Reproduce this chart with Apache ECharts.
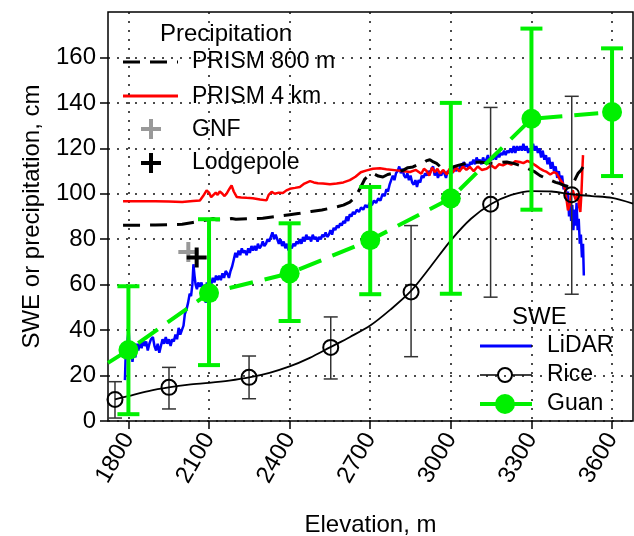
<!DOCTYPE html>
<html>
<head>
<meta charset="utf-8">
<script src="https://cdn.jsdelivr.net/npm/echarts@6/dist/echarts.min.js"></script>
<style>
  html, body { margin: 0; padding: 0; background: #fff; }
  #chart { width: 634px; height: 536px; }
</style>
</head>
<body>
<div id="chart"></div>
<script>
// axis ticks
const xTicks = [1800, 2100, 2400, 2700, 3000, 3300, 3600];
const yTicks = [0, 20, 40, 60, 80, 100, 120, 140, 160];

// PRISM precipitation, [elevation m, cm]
const prism800 = [
  [1780, 86.2], [1850, 86.2], [1900, 86.3], [1950, 86.4], [2000, 86.6], [2040, 87.4], [2070, 88],
  [2090, 88.4], [2103, 88.6], [2115, 89.2], [2125, 88.6], [2150, 88.6], [2184, 89.1], [2200, 88.8],
  [2250, 89], [2300, 89.2], [2350, 90], [2400, 90.8], [2438, 91.4], [2480, 92.2], [2520, 92.9],
  [2550, 93.6], [2580, 94.4], [2600, 95], [2624, 96.3], [2645, 98.5], [2665, 103], [2680, 106.5],
  [2699, 108.5], [2710, 109], [2730, 107.8], [2747, 107.4], [2765, 108.5], [2784, 109], [2800, 109.6],
  [2822, 110.3], [2840, 111.5], [2859, 111.8], [2880, 113], [2896, 113.4], [2910, 114.6], [2922, 115],
  [2935, 114], [2947, 113.4], [2960, 112], [2971, 111.2], [2990, 111.5], [3008, 111.8], [3030, 112.6],
  [3059, 113.4], [3080, 113.8], [3108, 114], [3130, 113.6], [3157, 113.4], [3180, 113.7], [3208, 114],
  [3230, 113.5], [3257, 112.5], [3285, 111.2], [3313, 109.6], [3332, 108], [3350, 107], [3370, 106],
  [3390, 105], [3406, 104.5], [3425, 103.5], [3443, 103], [3455, 104.5], [3465, 107], [3473, 108.9],
  [3485, 110.5], [3492, 111.8]
];
const prism4km = [
  [1780, 96.7], [1850, 96.7], [1900, 96.7], [1950, 96.6], [2000, 96.4], [2040, 96.8], [2066, 97],
  [2078, 99], [2091, 101.5], [2100, 100.5], [2108, 98.5], [2115, 99], [2125, 100.5], [2132, 99.5],
  [2140, 101], [2150, 100], [2158, 99], [2165, 100], [2175, 102], [2184, 103.7], [2192, 101],
  [2203, 98.6], [2220, 98.4], [2240, 98.2], [2263, 98], [2290, 97.5], [2314, 97.1], [2322, 99.5],
  [2333, 100.8], [2345, 100], [2360, 100.5], [2375, 100.3], [2388, 101.5], [2401, 102.2], [2420, 102.6],
  [2438, 103], [2455, 104.5], [2476, 105.6], [2490, 105], [2505, 104.6], [2524, 104.5], [2550, 104.2],
  [2575, 104.5], [2600, 105], [2624, 106], [2645, 107.5], [2665, 109.5], [2687, 110.3], [2710, 111],
  [2736, 111.2], [2760, 110.8], [2798, 110.3], [2820, 110], [2848, 109.6], [2870, 110.5], [2890, 108.8],
  [2900, 111], [2910, 110], [2920, 108], [2930, 111.5], [2940, 109.5], [2950, 111], [2960, 108.8],
  [2971, 110.5], [2985, 108.5], [2995, 111], [3008, 109.5], [3020, 111.5], [3032, 109.8], [3045, 112],
  [3058, 110.5], [3071, 111.8], [3085, 110], [3100, 112], [3115, 110.5], [3133, 111], [3150, 112.5],
  [3165, 111.2], [3180, 113], [3194, 112.5], [3210, 113.5], [3225, 112.8], [3240, 114.3], [3257, 114],
  [3270, 113.5], [3285, 114.5], [3300, 113.6], [3315, 112.5], [3330, 111.2], [3345, 110.2], [3357, 109.6],
  [3370, 108.5], [3383, 109.5], [3394, 109], [3405, 106.5], [3417, 104.6], [3425, 102], [3430, 98],
  [3436, 92.7], [3442, 95], [3448, 100], [3454, 101.5], [3460, 99], [3466, 97], [3473, 100.2],
  [3478, 94], [3482, 92], [3486, 100], [3490, 112], [3492, 117]
];

// single-site precipitation
const gnf = [[2023, 74.4]];
const lodgepole = [[2054, 72]];

// LiDAR SWE
const lidar = [
  [1787, 18], [1790, 30], [1793, 27], [1797, 36], [1801, 40], [1805, 29], [1810, 33], [1815, 26],
  [1820, 31], [1826, 28], [1831, 34], [1837, 31], [1843, 35], [1849, 32], [1854, 36], [1860, 33],
  [1866, 35], [1872, 31], [1878, 34], [1884, 36], [1891, 37], [1897, 33], [1903, 31], [1909, 34],
  [1915, 30], [1921, 33], [1927, 36], [1933, 34], [1939, 37], [1945, 34], [1951, 36], [1957, 33],
  [1963, 36], [1969, 35], [1975, 38], [1981, 36], [1987, 41], [1993, 38], [1999, 40], [2005, 42],
  [2010, 47], [2016, 49], [2022, 52], [2028, 56], [2033, 55], [2038, 60], [2042, 69], [2046, 64],
  [2050, 60], [2055, 58], [2060, 61], [2066, 59], [2072, 61], [2078, 57], [2083, 60], [2088, 52],
  [2092, 61], [2097, 59], [2102, 62], [2108, 60], [2114, 63], [2120, 61], [2126, 64], [2132, 62],
  [2138, 64], [2144, 62], [2150, 65], [2156, 63], [2162, 66], [2168, 65], [2174, 63], [2180, 66],
  [2186, 68], [2192, 71], [2198, 74], [2204, 72], [2210, 75], [2216, 73], [2222, 76], [2228, 74],
  [2234, 75], [2240, 73], [2246, 76], [2252, 74], [2258, 77], [2264, 75], [2270, 77], [2276, 75],
  [2282, 78], [2288, 76], [2294, 77], [2300, 79], [2306, 77], [2312, 78], [2318, 80], [2324, 79],
  [2330, 81], [2336, 83], [2342, 80], [2348, 82], [2354, 80], [2360, 78], [2366, 80], [2372, 77],
  [2378, 79], [2384, 76], [2390, 78], [2396, 75], [2402, 77], [2408, 76], [2414, 78], [2420, 77],
  [2426, 79], [2432, 78], [2438, 80], [2444, 78], [2450, 81], [2456, 79], [2462, 82], [2468, 80],
  [2474, 81], [2480, 79], [2486, 82], [2492, 80], [2498, 81], [2504, 79], [2510, 81], [2516, 80],
  [2522, 82], [2528, 81], [2534, 83], [2540, 81], [2546, 82], [2552, 84], [2558, 82], [2564, 85],
  [2570, 84], [2576, 86], [2582, 85], [2588, 87], [2594, 86], [2600, 88], [2606, 87], [2612, 90],
  [2618, 88], [2624, 91], [2630, 90], [2636, 92], [2642, 91], [2650, 93], [2658, 92], [2666, 94],
  [2674, 93], [2682, 95], [2690, 94], [2698, 96], [2706, 95], [2714, 97], [2722, 96], [2730, 98],
  [2738, 97], [2746, 100], [2754, 99], [2760, 102], [2766, 101], [2772, 104], [2778, 106], [2784, 108],
  [2790, 106], [2796, 109], [2802, 110], [2808, 112], [2814, 109], [2820, 111], [2826, 108], [2832, 107],
  [2838, 109], [2844, 106], [2850, 108], [2856, 105], [2862, 104], [2868, 106], [2874, 103], [2880, 106],
  [2886, 105], [2892, 108], [2898, 107], [2904, 109], [2910, 108], [2916, 110], [2922, 109], [2928, 111],
  [2934, 112], [2940, 108], [2946, 110], [2952, 107], [2958, 109], [2964, 108], [2970, 110], [2976, 109],
  [2982, 107], [2988, 110], [2994, 109], [3000, 111], [3006, 109], [3012, 112], [3018, 110], [3024, 111],
  [3030, 110], [3036, 113], [3042, 111], [3048, 114], [3054, 112], [3060, 113], [3066, 111], [3072, 114],
  [3078, 113], [3084, 115], [3090, 113], [3096, 116], [3102, 114], [3108, 115], [3114, 113], [3120, 116],
  [3126, 114], [3132, 115], [3138, 117], [3144, 114], [3150, 116], [3156, 115], [3162, 117], [3168, 115],
  [3174, 118], [3180, 116], [3186, 118], [3192, 117], [3198, 119], [3204, 117], [3210, 119], [3216, 118],
  [3222, 120], [3228, 118], [3234, 121], [3240, 118], [3246, 121], [3252, 119], [3258, 121], [3264, 119],
  [3270, 122], [3276, 119], [3282, 121], [3288, 118], [3294, 120], [3300, 118], [3306, 122], [3312, 119],
  [3318, 121], [3324, 118], [3330, 120], [3336, 116], [3342, 119], [3348, 115], [3354, 117], [3360, 113],
  [3366, 116], [3372, 111], [3378, 114], [3384, 110], [3390, 112], [3396, 107], [3402, 110], [3408, 105],
  [3414, 108], [3420, 102], [3426, 104], [3432, 98], [3436, 101], [3440, 90], [3444, 96], [3448, 88],
  [3452, 95], [3456, 84], [3460, 93], [3464, 86], [3468, 96], [3472, 84], [3476, 89], [3480, 78],
  [3484, 82], [3488, 72], [3492, 78], [3495, 64]
];

// Rice: bin means with [elevation, mean, low, high], and fitted curve
const ricePoints = [
  [1750, 9.5, 1.3, 17.3], [1951, 14.8, 5.3, 23.6], [2249, 19.2, 9.8, 28.6], [2553, 32.4, 18.5, 45.8],
  [2852, 56.8, 28.3, 86], [3148, 95.4, 54.5, 138], [3450, 99.6, 55.8, 142.9]
];
const riceCurve = [
  [1750, 9.5], [1800, 11], [1875, 13.2], [1950, 14.8], [2025, 16], [2100, 16.8], [2175, 17.8],
  [2250, 19.2], [2325, 21.2], [2400, 24], [2475, 27.8], [2550, 32.4], [2625, 37], [2700, 42],
  [2775, 49], [2850, 57], [2925, 68], [3000, 79.5], [3075, 89], [3150, 95.5], [3225, 99.5],
  [3300, 101.2], [3375, 101], [3450, 99.8], [3525, 99], [3600, 98.2], [3678, 95.7]
];

// Guan: [elevation, mean, low, high]; line runs in from the plot edge
const guanPoints = [
  [1800, 31.2, 3, 59.3], [2100, 56.3, 24.6, 88.8], [2400, 65, 44, 87], [2700, 79.6, 55.8, 103],
  [3000, 98, 56, 140], [3300, 133, 93, 172.7], [3600, 136, 107.8, 164]
];
const guanEdge = [1724, 25.6];

const FONT = 'Liberation Sans, Arial, sans-serif';
const GREEN = '#00f000';
const PLUS = 'path://M-1,-5L1,-5L1,-1L5,-1L5,1L1,1L1,5L-1,5L-1,1L-5,1L-5,-1L-1,-1Z';

function errorBars(color, width, cap) {
  return function (params, api) {
    const x = api.value(0);
    const lo = api.coord([x, api.value(2)]);
    const hi = api.coord([x, api.value(3)]);
    const h = cap / 2;
    const st = { stroke: color, lineWidth: width };
    return {
      type: 'group',
      children: [
        { type: 'line', shape: { x1: lo[0], y1: lo[1], x2: hi[0], y2: hi[1] }, style: st },
        { type: 'line', shape: { x1: lo[0] - h, y1: lo[1], x2: lo[0] + h, y2: lo[1] }, style: st },
        { type: 'line', shape: { x1: hi[0] - h, y1: hi[1], x2: hi[0] + h, y2: hi[1] }, style: st }
      ]
    };
  };
}

const dotted = { color: '#111', width: 1.5, type: [2, 7] };
const chart = echarts.init(document.getElementById('chart'), null, { renderer: 'canvas' });

const legendText = (x, y, text, size) => ({
  type: 'text', x: x, y: y,
  style: { text: text, font: (size || 23) + 'px ' + FONT, fill: '#000', verticalAlign: 'middle' }
});

chart.setOption({
  animation: false,
  backgroundColor: '#fff',
  textStyle: { fontFamily: FONT },
  grid: { left: 108, right: 1, top: 12, bottom: 115, outerBoundsMode: 'none', containLabel: false,
    show: true, borderColor: '#000', borderWidth: 1.5 },
  xAxis: {
    type: 'value', min: 1724, max: 3678,
    name: 'Elevation, m', nameLocation: 'middle', nameGap: 92,
    nameTextStyle: { fontSize: 24, color: '#000', fontFamily: FONT },
    axisLine: { show: false },
    axisTick: { show: true, length: 8, customValues: xTicks, lineStyle: { color: '#000', width: 1.5 } },
    axisLabel: { customValues: xTicks, rotate: 60, fontSize: 24, color: '#000', margin: 14, fontFamily: FONT,
      formatter: v => String(v) },
    splitLine: { show: true, lineStyle: dotted }
  },
  yAxis: {
    type: 'value', min: 0, max: 180, interval: 20,
    name: 'SWE or precipitation, cm', nameLocation: 'middle', nameGap: 64,
    nameTextStyle: { fontSize: 24, color: '#000', fontFamily: FONT },
    axisLine: { show: false },
    axisTick: { show: true, length: 8, customValues: yTicks, lineStyle: { color: '#000', width: 1.5 } },
    axisLabel: { customValues: yTicks, fontSize: 24, color: '#000', margin: 12, fontFamily: FONT },
    splitLine: { show: true, lineStyle: dotted }
  },
  series: [
    { name: 'LiDAR', type: 'line', data: lidar, showSymbol: false, lineStyle: { color: '#0000ff', width: 2.5 }, z: 2 },
    { name: 'PRISM 4 km', type: 'line', data: prism4km, showSymbol: false, lineStyle: { color: '#ff0000', width: 2.5 }, z: 3 },
    { name: 'PRISM 800 m', type: 'line', data: prism800, showSymbol: false, lineStyle: { color: '#000', width: 3, type: [17, 10] }, z: 4 },
    { name: 'GNF', type: 'scatter', data: gnf, symbol: PLUS, symbolSize: 20, itemStyle: { color: '#999', opacity: 1 }, z: 5 },
    { name: 'Lodgepole', type: 'scatter', data: lodgepole, symbol: PLUS, symbolSize: 20, itemStyle: { color: '#000', opacity: 1 }, z: 5 },
    { name: 'Rice', type: 'line', data: riceCurve, smooth: 0.3, showSymbol: false, lineStyle: { color: '#000', width: 1.8 }, z: 6 },
    { name: 'Rice range', type: 'custom', data: ricePoints, renderItem: errorBars('#333', 1.5, 14), z: 6 },
    { name: 'Rice bins', type: 'scatter', data: ricePoints.map(d => [d[0], d[1]]), symbol: 'circle', symbolSize: 15,
      itemStyle: { color: 'rgba(0,0,0,0)', borderColor: '#000', borderWidth: 2, opacity: 1 }, z: 7 },
    { name: 'Guan range', type: 'custom', data: guanPoints, renderItem: errorBars(GREEN, 4, 22), z: 8 },
    { name: 'Guan line', type: 'line', data: [guanEdge].concat(guanPoints.map(d => [d[0], d[1]])),
      showSymbol: false, lineStyle: { color: GREEN, width: 4, type: [24, 12] }, z: 9 },
    { name: 'Guan', type: 'scatter', data: guanPoints.map(d => [d[0], d[1]]), symbol: 'circle', symbolSize: 20,
      itemStyle: { color: GREEN, opacity: 1 }, z: 10 }
  ],
  graphic: [
    legendText(160, 34, 'Precipitation', 24),
    { type: 'line', shape: { x1: 123, y1: 62, x2: 178, y2: 62 }, style: { stroke: '#000', lineWidth: 3, lineDash: [17, 10] } },
    legendText(192, 62, 'PRISM 800 m'),
    { type: 'line', shape: { x1: 123, y1: 96, x2: 178, y2: 96 }, style: { stroke: '#ff0000', lineWidth: 3 } },
    legendText(192, 97, 'PRISM 4 km'),
    { type: 'rect', shape: { x: 141, y: 127, width: 20, height: 4 }, style: { fill: '#999' } },
    { type: 'rect', shape: { x: 149, y: 119, width: 4, height: 20 }, style: { fill: '#999' } },
    legendText(192, 130, 'GNF'),
    { type: 'rect', shape: { x: 141, y: 161, width: 20, height: 4 }, style: { fill: '#000' } },
    { type: 'rect', shape: { x: 149, y: 153, width: 4, height: 20 }, style: { fill: '#000' } },
    legendText(192, 163, 'Lodgepole'),
    legendText(512, 317, 'SWE', 24),
    { type: 'line', shape: { x1: 480, y1: 346, x2: 532, y2: 346 }, style: { stroke: '#0000ff', lineWidth: 3 } },
    legendText(547, 346, 'LiDAR'),
    { type: 'line', shape: { x1: 480, y1: 375, x2: 532, y2: 375 }, style: { stroke: '#000', lineWidth: 1.5 } },
    { type: 'circle', shape: { cx: 505, cy: 375, r: 7 }, style: { fill: '#fff', stroke: '#000', lineWidth: 2 } },
    legendText(547, 375, 'Rice'),
    { type: 'line', shape: { x1: 480, y1: 404, x2: 532, y2: 404 }, style: { stroke: GREEN, lineWidth: 4 } },
    { type: 'circle', shape: { cx: 505, cy: 404, r: 10 }, style: { fill: GREEN } },
    legendText(547, 404, 'Guan')
  ]
});
</script>
</body>
</html>
